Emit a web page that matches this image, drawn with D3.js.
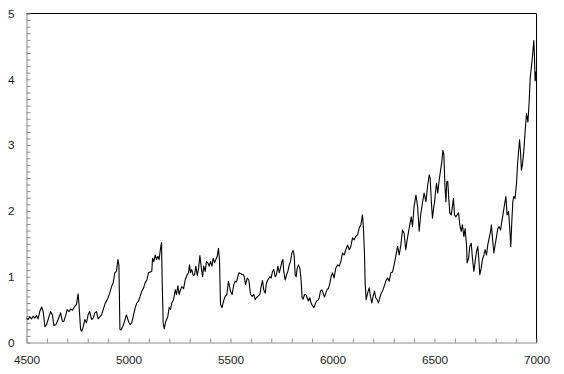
<!DOCTYPE html>
<html>
<head>
<meta charset="utf-8">
<script src="https://cdn.jsdelivr.net/npm/d3@7"></script>
<style>
  body { margin: 0; background: #fff; }
  .axis text { font-family: "Liberation Sans", Arial, sans-serif; font-size: 11.8px; fill: #222; }
  .axis path, .axis line { stroke: #8c8c8c; }
</style>
</head>
<body>
<div id="chart"></div>
<script>
// values (x, y)
var xVals = [
  4500, 4508, 4516, 4525, 4533, 4541, 4549, 4557, 4565, 4574, 4582, 4590, 4598, 4606, 4618, 4627,
  4634, 4644, 4655, 4667, 4676, 4683, 4693, 4699, 4709, 4716, 4725, 4737, 4745, 4753, 4758, 4765,
  4771, 4778, 4786, 4794, 4802, 4810, 4819, 4827, 4835, 4843, 4851, 4859, 4868, 4876, 4884, 4892,
  4900, 4908, 4917, 4925, 4933, 4941, 4948, 4953, 4958, 4964, 4974, 4984, 4990,
  5000, 5008, 5016, 5025, 5033, 5041, 5049, 5057, 5065, 5074, 5082, 5090, 5098, 5106, 5114, 5118,
  5124, 5131, 5137, 5144, 5150, 5157, 5162, 5165, 5170, 5175, 5183, 5193, 5199, 5206, 5212, 5221,
  5229, 5235, 5242, 5248, 5255, 5261, 5270, 5278, 5286, 5294, 5299, 5304, 5310, 5317, 5324, 5330,
  5337, 5343, 5350, 5356, 5363, 5369, 5376, 5382, 5389, 5395, 5402, 5409, 5415, 5422, 5428, 5435,
  5441, 5446, 5451, 5458, 5466, 5474, 5482, 5490,
  5500, 5508, 5516, 5523, 5529, 5536, 5542, 5549, 5557, 5565, 5574, 5582, 5590, 5598, 5606, 5614,
  5621, 5627, 5637, 5644, 5650, 5657, 5663, 5670, 5676, 5683, 5693, 5699, 5706, 5712, 5719, 5725,
  5732, 5739, 5745, 5752, 5757, 5761, 5768, 5775, 5781, 5788, 5794, 5801, 5807, 5812, 5817, 5822,
  5827, 5833, 5840, 5846, 5851, 5856, 5863, 5869, 5876, 5882, 5889, 5895, 5902, 5909, 5915, 5922,
  5928, 5935, 5941, 5948, 5954, 5961, 5967, 5974, 5980, 5987, 5993,
  6000, 6008, 6016, 6025, 6033, 6041, 6049, 6057, 6065, 6074, 6082, 6090, 6098, 6106, 6114, 6123,
  6131, 6139, 6147, 6152, 6157, 6160, 6165, 6172, 6180, 6186, 6193, 6199, 6206, 6212, 6219, 6225,
  6232, 6239, 6245, 6253, 6261, 6270, 6278, 6286, 6294, 6302, 6310, 6319, 6327, 6335, 6343, 6351,
  6359, 6366, 6373, 6379, 6386, 6392, 6400, 6409, 6417, 6425, 6433, 6441, 6449, 6458, 6466, 6474,
  6479, 6484, 6490, 6497,
  6500, 6505, 6510, 6516, 6523, 6529, 6536, 6541, 6546, 6551, 6556, 6560, 6565, 6570, 6575, 6582,
  6588, 6593, 6598, 6605, 6611, 6618, 6624, 6631, 6637, 6644, 6650, 6657, 6660, 6667, 6673, 6680,
  6686, 6693, 6699, 6706, 6712, 6717, 6722, 6729, 6735, 6742, 6748, 6755, 6761, 6768, 6775, 6779,
  6784, 6791, 6797, 6804, 6810, 6817, 6824, 6830, 6837, 6843, 6850, 6856, 6863, 6869, 6874, 6879,
  6884, 6889, 6895, 6902, 6907, 6912, 6917, 6922, 6926, 6931, 6938, 6944, 6951, 6958, 6964, 6969,
  6974, 6980, 6987, 6990, 6993, 6996, 7000
];
var yVals = [
  0.37, 0.35, 0.39, 0.36, 0.40, 0.37, 0.41, 0.36, 0.47, 0.54, 0.47, 0.24, 0.27, 0.35, 0.47, 0.42,
  0.26, 0.27, 0.35, 0.45, 0.32, 0.32, 0.42, 0.50, 0.47, 0.51, 0.49, 0.55, 0.58, 0.74, 0.55, 0.20,
  0.17, 0.24, 0.35, 0.30, 0.42, 0.47, 0.35, 0.37, 0.45, 0.47, 0.36, 0.39, 0.42, 0.50, 0.58, 0.63,
  0.68, 0.75, 0.85, 0.91, 1.06, 1.08, 1.26, 1.18, 0.20, 0.19, 0.26, 0.36, 0.42,
  0.32, 0.27, 0.30, 0.42, 0.53, 0.60, 0.63, 0.70, 0.78, 0.83, 0.91, 0.95, 1.06, 1.07, 1.08, 1.28,
  1.23, 1.33, 1.26, 1.31, 1.26, 1.43, 1.52, 0.95, 0.30, 0.21, 0.32, 0.40, 0.53, 0.50, 0.60, 0.65,
  0.80, 0.73, 0.86, 0.73, 0.80, 0.85, 0.82, 0.95, 1.02, 1.06, 1.18, 1.06, 1.11, 1.02, 1.03, 1.16,
  1.02, 1.11, 1.32, 1.16, 1.00, 1.16, 1.08, 1.23, 1.21, 1.16, 1.23, 1.16, 1.28, 1.21, 1.26, 1.31,
  1.43, 1.26, 0.58, 0.53, 0.63, 0.70, 0.73, 0.93,
  0.78, 0.73, 0.88, 0.93, 0.92, 1.00, 1.06, 1.05, 1.03, 1.03, 0.88, 0.98, 0.95, 0.73, 0.70, 0.73,
  0.65, 0.68, 0.71, 0.73, 0.85, 0.94, 0.80, 0.75, 0.90, 0.95, 1.00, 0.98, 1.08, 1.11, 1.00, 1.03,
  1.16, 1.06, 1.13, 1.23, 1.26, 1.08, 0.95, 1.03, 1.08, 1.18, 1.23, 1.36, 1.40, 1.33, 1.03, 1.00,
  1.13, 1.18, 1.13, 0.95, 0.68, 0.66, 0.73, 0.73, 0.68, 0.63, 0.68, 0.60, 0.56, 0.53, 0.58, 0.63,
  0.64, 0.68, 0.78, 0.80, 0.75, 0.69, 0.75, 0.81, 0.82, 0.90, 1.00,
  1.06, 0.98, 1.13, 1.18, 1.16, 1.23, 1.36, 1.33, 1.41, 1.48, 1.41, 1.46, 1.59, 1.56, 1.61, 1.64,
  1.74, 1.79, 1.94, 1.71, 1.33, 0.90, 0.65, 0.75, 0.83, 0.70, 0.60, 0.70, 0.78, 0.68, 0.65, 0.60,
  0.68, 0.75, 0.78, 0.85, 0.93, 0.98, 0.93, 1.06, 1.07, 1.18, 1.31, 1.46, 1.33, 1.48, 1.71, 1.66,
  1.41, 1.56, 1.69, 1.79, 1.91, 1.76, 2.07, 2.24, 2.07, 1.69, 1.96, 2.12, 2.27, 2.14, 2.37, 2.55,
  2.49, 2.17, 1.89, 2.07,
  2.12, 2.29, 2.42, 2.27, 2.47, 2.60, 2.75, 2.92, 2.85, 2.39, 2.14, 2.44, 2.45, 2.19, 1.97, 1.94,
  2.07, 2.19, 1.94, 1.91, 1.94, 1.97, 1.79, 1.69, 1.79, 1.61, 1.73, 1.48, 1.21, 1.28, 1.46, 1.51,
  1.28, 1.08, 1.23, 1.38, 1.46, 1.28, 1.03, 1.13, 1.26, 1.33, 1.41, 1.33, 1.48, 1.59, 1.69, 1.79,
  1.59, 1.36, 1.48, 1.61, 1.73, 1.76, 1.71, 1.84, 1.97, 2.09, 2.22, 1.94, 1.99, 1.73, 1.46, 1.84,
  2.14, 2.22, 2.19, 2.42, 2.70, 2.90, 3.08, 2.88, 2.62, 2.70, 2.92, 3.20, 3.48, 3.35, 3.66, 4.01,
  4.16, 4.34, 4.59, 4.36, 3.98, 4.11, 3.96, 4.08
];
var xTicks = d3.range(4500, 7001, 100);
var yTicks = d3.range(0, 51).map(function (d) { return d / 10; });

var width = 564, height = 374;
var margin = { top: 13.5, right: 27.5, bottom: 31.5, left: 26.5 };

var svg = d3.select("#chart")
    .append("svg")
    .attr("width", width)
    .attr("height", height);

var x = d3.scaleLinear()
    .domain([4500, 7000])
    .range([margin.left, width - margin.right]);
var y = d3.scaleLinear()
    .domain([0, 5])
    .range([height - margin.bottom, margin.top]);

var data = xVals.map(function (d, i) { return { x: d, y: yVals[i] }; });

// top and right frame lines
svg.append("line")
    .attr("x1", x(4500)).attr("x2", x(7000))
    .attr("y1", y(5)).attr("y2", y(5))
    .attr("stroke", "#000");
svg.append("line")
    .attr("x1", x(7000)).attr("x2", x(7000))
    .attr("y1", y(5)).attr("y2", y(0))
    .attr("stroke", "#000");

// bottom axis
svg.append("g")
    .attr("class", "axis")
    .attr("transform", "translate(0," + y(0) + ")")
    .call(d3.axisBottom(x)
        .tickValues(xTicks)
        .tickSizeInner(-4)
        .tickSizeOuter(0)
        .tickPadding(13)
        .tickFormat(function (d) { return d % 500 === 0 ? d : ""; }));

// left axis
svg.append("g")
    .attr("class", "axis")
    .attr("transform", "translate(" + x(4500) + ",0)")
    .call(d3.axisLeft(y)
        .tickValues(yTicks)
        .tickSizeInner(-4)
        .tickSizeOuter(0)
        .tickPadding(12)
        .tickFormat(function (d) { return Math.abs(d - Math.round(d)) < 1e-9 ? d : ""; }));

var line = d3.line()
    .x(function (d) { return x(d.x); })
    .y(function (d) { return y(d.y); });

svg.append("path")
    .datum(data)
    .attr("fill", "none")
    .attr("stroke", "#000")
    .attr("stroke-width", 1.1)
    .attr("stroke-linejoin", "round")
    .attr("d", line);
</script>
</body>
</html>
